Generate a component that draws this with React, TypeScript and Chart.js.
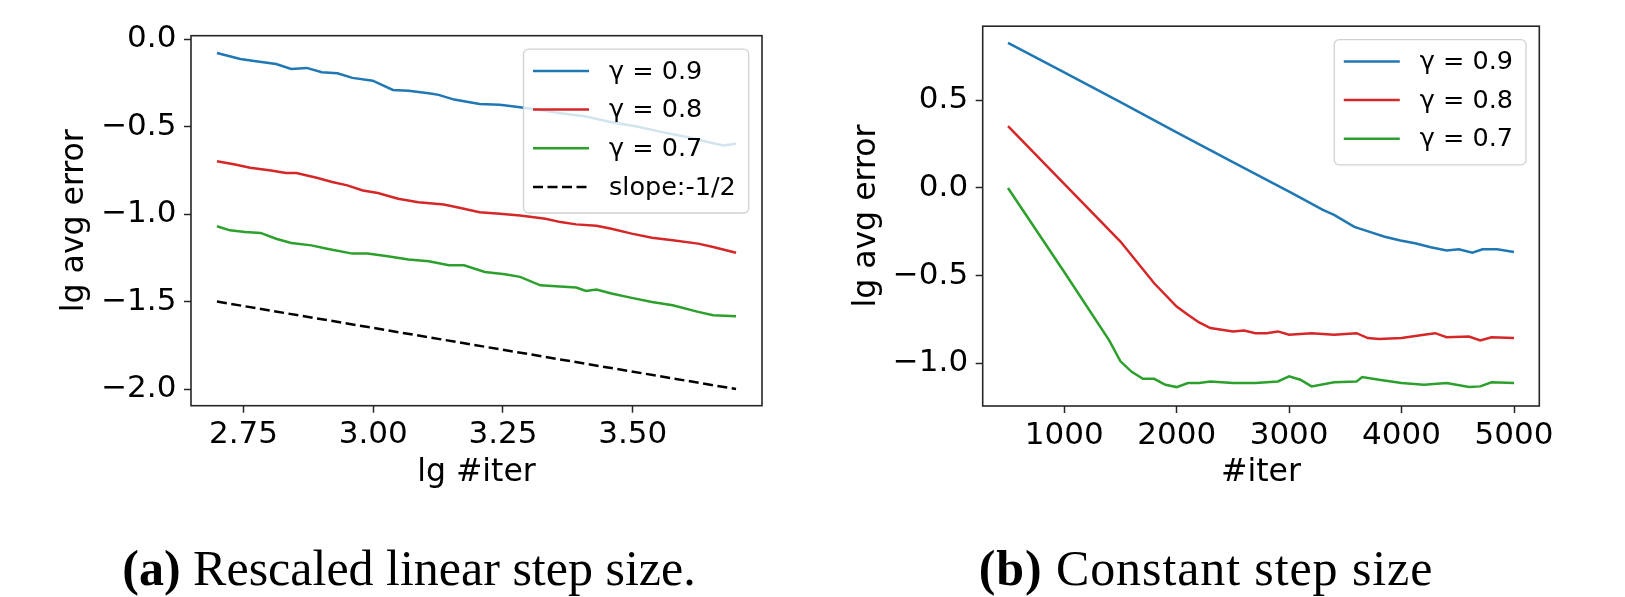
import { useEffect, useRef } from 'react';
import { Chart, registerables } from 'chart.js';
Chart.register(...registerables);

// ---------- Panel (a): rescaled linear step size ----------
const A_X_TICKS = [2.75, 3.0, 3.25, 3.5];
const A_X_TICK_LABELS = ['2.75', '3.00', '3.25', '3.50'];
const A_Y_TICKS = [0.0, -0.5, -1.0, -1.5, -2.0];
const A_Y_TICK_LABELS = ['0.0', '\u22120.5', '\u22121.0', '\u22121.5', '\u22122.0'];

const A_G09_X = [2.699, 2.744, 2.774, 2.813, 2.842, 2.872, 2.901, 2.931, 2.96, 2.999, 3.038, 3.068, 3.107, 3.126, 3.156, 3.205, 3.244, 3.283, 3.322, 3.361, 3.41, 3.459, 3.508, 3.557, 3.606, 3.655, 3.675, 3.699];
const A_G09_Y = [-0.08, -0.114, -0.127, -0.143, -0.171, -0.165, -0.19, -0.196, -0.222, -0.238, -0.291, -0.295, -0.31, -0.319, -0.346, -0.371, -0.375, -0.39, -0.405, -0.424, -0.443, -0.475, -0.5, -0.532, -0.561, -0.595, -0.608, -0.599];

const A_G08_X = [2.699, 2.734, 2.763, 2.803, 2.832, 2.852, 2.891, 2.921, 2.95, 2.98, 3.009, 3.048, 3.087, 3.136, 3.166, 3.205, 3.244, 3.283, 3.332, 3.361, 3.391, 3.43, 3.459, 3.498, 3.537, 3.577, 3.626, 3.655, 3.699];
const A_G08_Y = [-0.698, -0.717, -0.736, -0.751, -0.766, -0.766, -0.793, -0.817, -0.836, -0.865, -0.88, -0.913, -0.932, -0.945, -0.964, -0.99, -0.998, -1.008, -1.027, -1.046, -1.059, -1.067, -1.084, -1.112, -1.135, -1.15, -1.169, -1.188, -1.221];

const A_G07_X = [2.699, 2.724, 2.753, 2.783, 2.813, 2.842, 2.881, 2.911, 2.96, 2.989, 3.028, 3.068, 3.107, 3.146, 3.175, 3.215, 3.254, 3.283, 3.322, 3.352, 3.391, 3.41, 3.43, 3.459, 3.498, 3.537, 3.577, 3.626, 3.655, 3.699];
const A_G07_Y = [-1.07, -1.093, -1.103, -1.108, -1.141, -1.165, -1.179, -1.198, -1.226, -1.226, -1.241, -1.26, -1.27, -1.293, -1.293, -1.331, -1.344, -1.359, -1.407, -1.412, -1.42, -1.439, -1.431, -1.454, -1.479, -1.502, -1.521, -1.559, -1.578, -1.584];

const A_SLOPE_X = [2.699, 3.699];
const A_SLOPE_Y = [-1.5, -2.0];

// ---------- Panel (b): constant step size ----------
const B_X_TICKS = [1000, 2000, 3000, 4000, 5000];
const B_X_TICK_LABELS = ['1000', '2000', '3000', '4000', '5000'];
const B_Y_TICKS = [0.5, 0.0, -0.5, -1.0];
const B_Y_TICK_LABELS = ['0.5', '0.0', '\u22120.5', '\u22121.0'];

const B_G09_X = [500, 1000, 1500, 2000, 2500, 3000, 3120, 3300, 3400, 3580, 3710, 3850, 3990, 4120, 4260, 4400, 4510, 4630, 4720, 4850, 5000];
const B_G09_Y = [0.829, 0.66, 0.49, 0.318, 0.148, -0.021, -0.062, -0.125, -0.154, -0.222, -0.249, -0.278, -0.3, -0.316, -0.338, -0.357, -0.35, -0.369, -0.35, -0.35, -0.365];

const B_G08_X = [500, 1000, 1500, 1800, 2000, 2100, 2200, 2300, 2400, 2500, 2600, 2700, 2800, 2900, 3000, 3200, 3400, 3600, 3700, 3800, 4000, 4200, 4300, 4400, 4600, 4700, 4800, 5000];
const B_G08_Y = [0.354, 0.023, -0.306, -0.544, -0.677, -0.724, -0.768, -0.8, -0.81, -0.819, -0.814, -0.829, -0.829, -0.819, -0.838, -0.829, -0.838, -0.829, -0.857, -0.863, -0.857, -0.838, -0.829, -0.852, -0.848, -0.871, -0.852, -0.857];

const B_G07_X = [500, 1000, 1400, 1500, 1600, 1700, 1800, 1900, 2000, 2100, 2200, 2300, 2500, 2700, 2900, 3000, 3100, 3200, 3400, 3600, 3650, 3800, 4000, 4200, 4400, 4600, 4700, 4800, 5000];
const B_G07_Y = [0.0, -0.48, -0.87, -0.99, -1.05, -1.09, -1.09, -1.124, -1.137, -1.114, -1.114, -1.105, -1.114, -1.114, -1.105, -1.076, -1.095, -1.133, -1.11, -1.105, -1.08, -1.095, -1.114, -1.124, -1.114, -1.137, -1.133, -1.11, -1.114];

const LABEL_09 = '\u03b3 = 0.9';
const LABEL_08 = '\u03b3 = 0.8';
const LABEL_07 = '\u03b3 = 0.7';
const LABEL_SLOPE = 'slope:-1/2';

const BLUE = '#1f77b4';
const RED = '#d62728';
const GREEN = '#2ca02c';
const BLACK = '#000000';

const FONT = "'DejaVu Sans', sans-serif";

function pts(xs: number[], ys: number[]) {
  return xs.map((x, i) => ({ x, y: ys[i] }));
}

function labelFrom(ticks: number[], labels: string[]) {
  return (v: number | string) => {
    const n = Number(v);
    const i = ticks.findIndex((t) => Math.abs(t - n) < 1e-9);
    return i >= 0 ? labels[i] : '';
  };
}

const mplPlugin = {
  id: 'mplFrameLegend',
  afterDatasetsDraw(chart: any) {
    const { ctx, chartArea } = chart;
    const { left, top, right, bottom } = chartArea;
    ctx.save();
    // frame (all four spines)
    ctx.strokeStyle = '#262626';
    ctx.lineWidth = 1.6;
    ctx.strokeRect(left, top, right - left, bottom - top);

    // legend drawn above lines, like matplotlib
    const ds = chart.data.datasets;
    const fontSize = 25.5;
    ctx.font = `${fontSize}px ${FONT}`;
    let maxW = 0;
    ds.forEach((d: any) => {
      maxW = Math.max(maxW, ctx.measureText(d.label).width);
    });
    const padL = 9.5, handleW = 56, gap = 20, padR = 13;
    const rowFirst = 21.7, rowStep = 38.7, rowLast = 26;
    const boxW = padL + handleW + gap + maxW + padR;
    const boxH = rowFirst + rowStep * (ds.length - 1) + rowLast;
    const bx = right - 13.3 - boxW;
    const by = top + 13.5;
    const r = 5;
    ctx.beginPath();
    ctx.moveTo(bx + r, by);
    ctx.lineTo(bx + boxW - r, by);
    ctx.arcTo(bx + boxW, by, bx + boxW, by + r, r);
    ctx.lineTo(bx + boxW, by + boxH - r);
    ctx.arcTo(bx + boxW, by + boxH, bx + boxW - r, by + boxH, r);
    ctx.lineTo(bx + r, by + boxH);
    ctx.arcTo(bx, by + boxH, bx, by + boxH - r, r);
    ctx.lineTo(bx, by + r);
    ctx.arcTo(bx, by, bx + r, by, r);
    ctx.closePath();
    ctx.fillStyle = 'rgba(255,255,255,0.8)';
    ctx.fill();
    ctx.strokeStyle = 'rgba(204,204,204,0.9)';
    ctx.lineWidth = 1.3;
    ctx.stroke();

    ds.forEach((d: any, i: number) => {
      const cy = by + rowFirst + rowStep * i;
      ctx.beginPath();
      ctx.strokeStyle = d.borderColor;
      ctx.lineWidth = d.borderWidth;
      ctx.setLineDash(d.borderDash || []);
      ctx.moveTo(bx + padL, cy);
      ctx.lineTo(bx + padL + handleW, cy);
      ctx.stroke();
      ctx.setLineDash([]);
      ctx.fillStyle = '#000';
      ctx.textBaseline = 'middle';
      ctx.textAlign = 'left';
      ctx.fillText(d.label, bx + padL + handleW + gap, cy + 1);
    });
    ctx.restore();
  },
};

function axisCommon(tickVals: number[], tickLabels: string[], tickPad: number) {
  return {
    type: 'linear' as const,
    afterBuildTicks: (s: any) => {
      s.ticks = tickVals.map((v) => ({ value: v }));
    },
    ticks: {
      callback: labelFrom(tickVals, tickLabels),
      font: { family: FONT, size: 31 },
      color: '#000',
      padding: tickPad,
      autoSkip: false,
      maxRotation: 0,
      includeBounds: false,
    },
    grid: {
      display: true,
      drawOnChartArea: false,
      drawTicks: true,
      tickLength: 7,
      tickWidth: 1.5,
      tickColor: '#262626',
    },
    border: { display: false },
  };
}

type PanelCfg = {
  width: number;
  height: number;
  padding: { left: number; top: number; right: number; bottom: number };
  yWidth: number;
  xHeight: number;
  xMin: number;
  xMax: number;
  yMin: number;
  yMax: number;
  xTicks: number[];
  xTickLabels: string[];
  yTicks: number[];
  yTickLabels: string[];
  xTitle: string;
  yTitle: string;
  datasets: any[];
};

function Panel({ cfg, left }: { cfg: PanelCfg; left: number }) {
  const ref = useRef<HTMLCanvasElement | null>(null);
  useEffect(() => {
    if (!ref.current) return;
    const xAxis: any = axisCommon(cfg.xTicks, cfg.xTickLabels, 4);
    xAxis.min = cfg.xMin;
    xAxis.max = cfg.xMax;
    xAxis.afterFit = (s: any) => {
      s.height = cfg.xHeight;
    };
    xAxis.title = {
      display: true,
      text: cfg.xTitle,
      font: { family: FONT, size: 31.5, lineHeight: 1.2 },
      color: '#000',
      padding: 0,
    };
    const yAxis: any = axisCommon(cfg.yTicks, cfg.yTickLabels, 7.6);
    yAxis.min = cfg.yMin;
    yAxis.max = cfg.yMax;
    yAxis.afterFit = (s: any) => {
      s.width = cfg.yWidth;
    };
    yAxis.title = {
      display: true,
      text: cfg.yTitle,
      font: { family: FONT, size: 31.5, lineHeight: 1.2 },
      color: '#000',
      padding: 0,
    };
    const chart = new Chart(ref.current, {
      type: 'line',
      data: { datasets: cfg.datasets },
      options: {
        animation: false,
        responsive: false,
        events: [],
        layout: { padding: cfg.padding },
        elements: { point: { radius: 0 }, line: { tension: 0 } },
        plugins: { legend: { display: false }, tooltip: { enabled: false } },
        scales: { x: xAxis, y: yAxis },
      },
      plugins: [mplPlugin],
    } as any);
    return () => chart.destroy();
  }, []);
  return (
    <canvas
      ref={ref}
      width={cfg.width}
      height={cfg.height}
      style={{ position: 'absolute', left, top: 0, width: cfg.width, height: cfg.height }}
    />
  );
}

function ds(label: string, xs: number[], ys: number[], color: string, dash?: number[]) {
  return {
    label,
    data: pts(xs, ys),
    borderColor: color,
    backgroundColor: color,
    borderWidth: 2.5,
    borderDash: dash || [],
    fill: false,
    pointRadius: 0,
  };
}

const PANEL_A: PanelCfg = {
  width: 800,
  height: 500,
  padding: { left: 56.1, top: 35.7, right: 38, bottom: 8.1 },
  yWidth: 134.9,
  xHeight: 86.2,
  xMin: 2.649,
  xMax: 3.749,
  yMin: -2.095,
  yMax: 0.019,
  xTicks: A_X_TICKS,
  xTickLabels: A_X_TICK_LABELS,
  yTicks: A_Y_TICKS,
  yTickLabels: A_Y_TICK_LABELS,
  xTitle: 'lg #iter',
  yTitle: 'lg avg error',
  datasets: [
    ds(LABEL_09, A_G09_X, A_G09_Y, BLUE),
    ds(LABEL_08, A_G08_X, A_G08_Y, RED),
    ds(LABEL_07, A_G07_X, A_G07_Y, GREEN),
    ds(LABEL_SLOPE, A_SLOPE_X, A_SLOPE_Y, BLACK, [10, 4.5]),
  ],
};

const PANEL_B: PanelCfg = {
  width: 825,
  height: 500,
  padding: { left: 48.1, top: 25.7, right: 85.7, bottom: 8.1 },
  yWidth: 134.6,
  xHeight: 85.9,
  xMin: 275,
  xMax: 5225,
  yMin: -1.245,
  yMax: 0.924,
  xTicks: B_X_TICKS,
  xTickLabels: B_X_TICK_LABELS,
  yTicks: B_Y_TICKS,
  yTickLabels: B_Y_TICK_LABELS,
  xTitle: '#iter',
  yTitle: 'lg avg error',
  datasets: [
    ds(LABEL_09, B_G09_X, B_G09_Y, BLUE),
    ds(LABEL_08, B_G08_X, B_G08_Y, RED),
    ds(LABEL_07, B_G07_X, B_G07_Y, GREEN),
  ],
};

const CAPTION_A_TAG = '(a)';
const CAPTION_A_TEXT = 'Rescaled linear step size.';
const CAPTION_B_TAG = '(b)';
const CAPTION_B_TEXT = 'Constant step size';

const captionStyle = {
  position: 'absolute' as const,
  top: 543,
  fontFamily: "'Liberation Serif', serif",
  fontSize: 50,
  lineHeight: '50px',
  color: '#000',
  textAlign: 'center' as const,
  whiteSpace: 'nowrap' as const,
};

export default function App() {
  return (
    <div
      style={{
        position: 'absolute',
        left: 0,
        top: 0,
        width: 1625,
        height: 597,
        background: '#fff',
        overflow: 'hidden',
      }}
    >
      <Panel cfg={PANEL_A} left={0} />
      <Panel cfg={PANEL_B} left={800} />
      <div style={{ ...captionStyle, left: 0, width: 818 }}>
        <b>{CAPTION_A_TAG}</b> {CAPTION_A_TEXT}
      </div>
      <div style={{ ...captionStyle, left: 800, width: 812, letterSpacing: '0.9px' }}>
        <b>{CAPTION_B_TAG}</b> {CAPTION_B_TEXT}
      </div>
    </div>
  );
}
